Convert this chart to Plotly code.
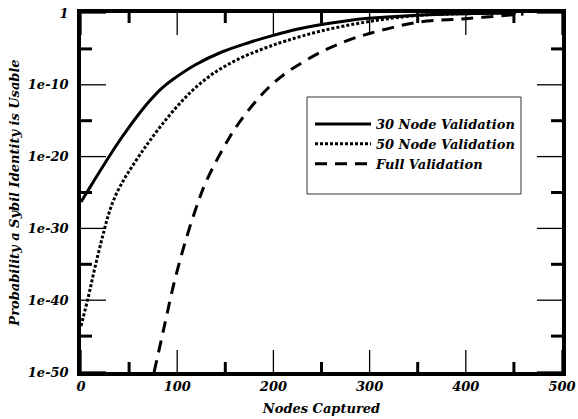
import plotly.graph_objects as go

# Nodes captured (x) and probability (y)
x_30 = [0, 12, 25, 40, 50, 60, 71, 83, 95, 119, 147, 175, 199, 227, 250, 275, 299, 350, 400, 452]
y_30 = [5e-27, 2e-24, 1.3e-21, 1.6e-18, 1.3e-16, 7.9e-15, 5e-13, 2.5e-11, 5e-10, 6.3e-8,
        4e-6, 7.9e-5, 7.1e-4, 6.3e-3, 2.5e-2, 7.9e-2, 0.18, 0.5, 0.8, 1.0]

x_50 = [0, 8, 13, 18.5, 24, 29, 36, 45, 53, 64, 72, 85, 102, 119, 140, 164, 189, 213,
        250, 299, 350, 400, 440]
y_50 = [2.5e-44, 5e-40, 5e-37, 6.3e-34, 5e-31, 1.3e-28, 4e-26, 7.9e-24, 4e-22, 6.3e-20,
        2e-18, 4e-16, 2e-13, 4e-11, 6.3e-9, 4e-7, 1e-5, 1.3e-4, 3.2e-3, 6.3e-2, 0.45, 0.8, 1.0]

x_full = [76, 84, 88, 96, 107, 119, 130, 154, 168, 185, 199, 217, 250, 276, 299, 350, 400, 449, 460]
y_full = [1e-50, 6.3e-46, 1.6e-43, 1e-38, 3.2e-33, 4e-28, 3.2e-24, 4e-18, 2.5e-15, 1.6e-12,
          1.3e-10, 1e-8, 4e-6, 1.3e-4, 1.3e-3, 5e-2, 0.16, 0.56, 0.7]

series_names = ["30 Node Validation", "50 Node Validation", "Full Validation"]

x_range = [0, 500]
y_range_exp = [-50, 0]
x_ticks = [0, 100, 200, 300, 400, 500]
x_ticktext = ["0", "100", "200", "300", "400", "500"]
x_minor = [50, 150, 250, 350, 450]
y_ticks = [1e-50, 1e-40, 1e-30, 1e-20, 1e-10, 1]
y_ticktext = ["1e-50", "1e-40", "1e-30", "1e-20", "1e-10", "1"]
y_minor = [1e-45, 1e-35, 1e-25, 1e-15, 1e-5]

FONT = "DejaVu Serif"
def bi(s):
    return "<b><i>" + s + "</i></b>"
def f(size):
    return dict(family=FONT, size=size, color="black")

L, R, T, B, W, H = 81, 16, 13, 47, 578, 419
pw, ph = W - L - R, H - T - B
def px(xp):
    return (xp - L) / pw
def py(yp):
    return (H - B - yp) / ph

fig = go.Figure()
fig.add_trace(go.Scatter(x=x_30, y=y_30, mode="lines", name=bi(series_names[0]),
                         line=dict(color="black", width=3, shape="spline", smoothing=1.0)))
fig.add_trace(go.Scatter(x=x_50, y=y_50, mode="lines", name=bi(series_names[1]),
                         line=dict(color="black", width=3, dash="3px,2px", shape="spline", smoothing=1.0)))
fig.add_trace(go.Scatter(x=x_full, y=y_full, mode="lines", name=bi(series_names[2]),
                         line=dict(color="black", width=3, dash="12px,8px", shape="spline", smoothing=1.0)))

# Tick marks (inside, mirrored on all four sides): x ticks use the data x axis and a
# pixel-unit overlay axis (y2) for their length; y ticks use the data y axis and a
# pixel-unit overlay axis (x2).
def xtick_trace(vals, length, width):
    xs, ys = [], []
    for v in vals:
        xs += [v, v, None, v, v, None]
        ys += [0, length, None, ph, ph - length, None]
    return go.Scatter(x=xs, y=ys, xaxis="x", yaxis="y2", mode="lines", cliponaxis=False,
                      line=dict(color="black", width=width), showlegend=False, hoverinfo="skip")

def ytick_trace(vals, length, width):
    xs, ys = [], []
    for v in vals:
        xs += [0, length, None, pw, pw - length, None]
        ys += [v, v, None, v, v, None]
    return go.Scatter(x=xs, y=ys, xaxis="x2", yaxis="y", mode="lines", cliponaxis=False,
                      line=dict(color="black", width=width), showlegend=False, hoverinfo="skip")

fig.add_trace(xtick_trace(x_ticks, 22, 1.3))
fig.add_trace(xtick_trace(x_minor, 10, 3))
fig.add_trace(ytick_trace(y_ticks, 25, 1.3))
fig.add_trace(ytick_trace(y_minor, 11, 3))

shapes = [dict(type="rect", xref="paper", yref="paper",
               x0=px(307), x1=px(521), y0=py(194), y1=py(97),
               line=dict(color="#333", width=1), fillcolor="white", layer="below")]

common = dict(showline=True, linewidth=3.5, linecolor="black", mirror=True,
              showgrid=False, zeroline=False, automargin=False, ticks="")
hidden = dict(showline=False, showgrid=False, zeroline=False, showticklabels=False,
              ticks="", automargin=False, fixedrange=True)

fig.update_layout(
    width=W, height=H,
    margin=dict(l=L, r=R, t=T, b=B),
    paper_bgcolor="white", plot_bgcolor="white",
    font=f(13),
    showlegend=True,
    legend=dict(x=px(310), y=py(109), xanchor="left", yanchor="top",
                bgcolor="rgba(0,0,0,0)", borderwidth=0,
                font=f(13), itemwidth=56, tracegroupgap=0,
                traceorder="normal"),
    shapes=shapes,
    xaxis=dict(
        range=x_range, tickmode="array", tickvals=x_ticks,
        ticktext=[bi(t) for t in x_ticktext],
        tickfont=f(13),
        title=dict(text=bi("Nodes Captured"), font=f(13), standoff=12),
        **common,
    ),
    yaxis=dict(
        type="log", range=y_range_exp, tickmode="array", tickvals=y_ticks,
        ticktext=[bi(t) for t in y_ticktext],
        tickfont=f(13), ticklabelstandoff=6,
        title=dict(text=bi("Probability a Sybil Identity is Usable"), font=f(13), standoff=6),
        **common,
    ),
    xaxis2=dict(overlaying="x", anchor="y", range=[0, pw], **hidden),
    yaxis2=dict(overlaying="y", anchor="x", range=[0, ph], **hidden),
)

fig.write_html("out.html", post_script="document.body.style.margin='0';",
               config={"displayModeBar": False})
